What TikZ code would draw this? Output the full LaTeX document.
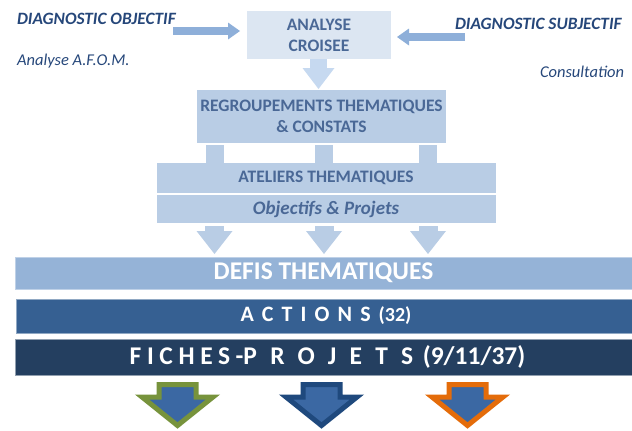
\documentclass[tikz,border=0pt]{standalone}
\usepackage{fontspec}
\setmainfont{Carlito}
\usetikzlibrary{arrows.meta,calc}
\definecolor{txtdk}{HTML}{26477A}
\definecolor{boxtxt}{HTML}{4A6896}
\definecolor{palebox}{HTML}{DCE6F2}
\definecolor{midbox}{HTML}{B9CDE5}
\definecolor{harrow}{HTML}{8EAFD9}
\definecolor{varrow}{HTML}{C6D9F0}
\definecolor{defisc}{HTML}{95B3D7}
\definecolor{actc}{HTML}{366092}
\definecolor{fichc}{HTML}{243F60}
\definecolor{innerc}{HTML}{3B68A3}
\definecolor{greenc}{HTML}{77933C}
\definecolor{bluec}{HTML}{1F497D}
\definecolor{orangec}{HTML}{E46C0A}
\begin{document}
\begin{tikzpicture}[x=1pt,y=-1pt,
  every node/.style={inner sep=0pt,outer sep=0pt},
  lbl/.style={font=\fontsize{17.3}{21}\selectfont\bfseries\itshape,text=txtdk,anchor=base west},
  sublbl/.style={font=\fontsize{16.5}{20}\selectfont\itshape,text=txtdk,anchor=base west},
  panel/.style={rectangle,align=center,text=boxtxt,font=\fontsize{17.5}{21}\selectfont\bfseries},
  bandbar/.style={rectangle,text=white,font=\bfseries},
  harr/.style={draw=harrow,line width=8pt,-{Triangle[length=12pt,width=17pt,line width=0pt]}},
  varr/.style={draw=varrow,line width=17pt,-{Triangle[length=21pt,width=32pt,line width=0pt]}},
  darr/.style={draw=midbox,line width=19pt,-{Triangle[length=23pt,width=36pt,line width=0pt]}},
  sqlink/.style={draw=midbox,line width=18pt},
  outarr/.style={line width=5pt,fill=innerc,line join=miter}
]
\useasboundingbox (0,0) rectangle (632,431);

% labels
\node[lbl] (dobj) at (17,24) {DIAGNOSTIC OBJECTIF};
\node[sublbl] (afom) at (17,65) {Analyse A.F.O.M.};
\node[lbl] (dsubj) at (455,29) {DIAGNOSTIC SUBJECTIF};
\node[sublbl] (consult) at (540,77) {Consultation};

% panels
\node[panel,fill=palebox,minimum width=144pt,minimum height=48pt] (ana) at (319,35) {ANALYSE\\CROISEE};
\node[panel,fill=midbox,minimum width=249pt,minimum height=53pt] (reg) at (321.5,116.5) {REGROUPEMENTS THEMATIQUES\\\& CONSTATS};
\node[panel,fill=midbox,minimum width=339pt,minimum height=30pt] (atel) at (326,178) {ATELIERS THEMATIQUES};
\node[panel,fill=midbox,minimum width=339pt,minimum height=28pt,font=\fontsize{19}{22}\selectfont\bfseries\itshape] (obj) at (326,209) {Objectifs \& Projets};

% bars
\node[bandbar,fill=defisc,draw=defisc!60!white,line width=0.8pt,minimum width=617pt,minimum height=32pt,font=\fontsize{25.5}{30}\selectfont\bfseries] (defis) at (323.5,273) {DEFIS THEMATIQUES};
\node[bandbar,fill=actc,draw=actc!55!white,line width=0.8pt,minimum width=616pt,minimum height=34pt,font=\fontsize{22}{26}\selectfont\bfseries] (act) at (324,316) {\hspace*{4pt}{\addfontfeatures{LetterSpace=37}ACTIONS}\hspace{3pt} {\fontsize{20}{24}\selectfont (32)}};
\node[bandbar,fill=fichc,draw=fichc!50!white,line width=0.8pt,minimum width=617pt,minimum height=36pt,font=\fontsize{25.5}{30}\selectfont\bfseries] (fich) at (323.5,357) {\hspace*{8pt}{\addfontfeatures{LetterSpace=22}FICHES-}{\addfontfeatures{LetterSpace=52}PROJETS}\hspace{4pt} (9/11/37)};

% horizontal arrows into ANALYSE CROISEE
\coordinate (hl) at (173,31);
\coordinate (hr) at (465,37);
\draw[harr,shorten >=7pt] (hl) -- (hl -| ana.west);
\draw[harr,shorten >=6pt] (hr) -- (hr -| ana.east);

% down arrow ANALYSE -> REGROUPEMENTS
\coordinate (c0) at (318.5,0);
\draw[varr,shorten >=1pt] (c0 |- ana.south) -- (c0 |- reg.north);

% square links REGROUPEMENTS -> ATELIERS, arrows Objectifs -> DEFIS
\foreach \cx/\nm in {214.5/a,324/b,428/c}{
  \coordinate (col\nm) at (\cx,0);
  \draw[sqlink,shorten <=2pt] (col\nm |- reg.south) -- (col\nm |- atel.north);
  \draw[darr,shorten <=3pt,shorten >=3pt] (col\nm |- obj.south) -- (col\nm |- defis.north);
}

% output arrows
\foreach \cx/\col in {177.5/greenc,321.5/bluec,467.5/orangec}{
  \draw[outarr,draw=\col] (\cx-18.5,384.5) -- (\cx+18.5,384.5) -- (\cx+18.5,397) -- (\cx+35.5,397)
     -- (\cx,425.5) -- (\cx-35.5,397) -- (\cx-18.5,397) -- cycle;
}
\end{tikzpicture}
\end{document}
